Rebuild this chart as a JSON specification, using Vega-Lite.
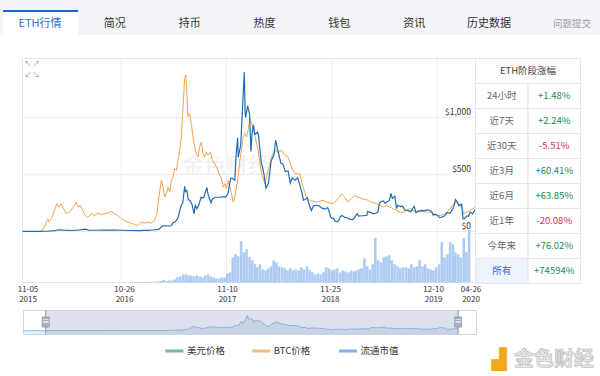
{
  "$schema": "https://vega.github.io/schema/vega-lite/v6.json",
  "width": 600,
  "height": 376,
  "autosize": {"type": "fit", "contains": "padding"},
  "padding": 0,
  "background": "#ffffff",
  "config": {"view": {"stroke": null}, "font": "Noto Sans CJK SC"},
  "datasets": {
    "tabs": [
      {"t": "ETH行情", "state": "active"}, {"t": "简况", "state": "normal"}, {"t": "持币", "state": "normal"},
      {"t": "热度", "state": "normal"}, {"t": "钱包", "state": "normal"}, {"t": "资讯", "state": "normal"}, {"t": "历史数据", "state": "normal"}
    ],
    "ticks": [{"d": "2015-11-05"}, {"d": "2016-10-26"}, {"d": "2017-11-10"}, {"d": "2018-11-25"}, {"d": "2019-12-10"}, {"d": "2020-04-26"}],
    "price": [
      {"d":"2015-08-08","p":2.8},{"d":"2015-08-20","p":1.3},{"d":"2015-09-10","p":0.95},{"d":"2015-10-01","p":0.7},{"d":"2015-10-20","p":0.6},
      {"d":"2015-11-05","p":0.95},{"d":"2015-12-01","p":0.87},{"d":"2016-01-01","p":0.95},{"d":"2016-02-01","p":2.4},{"d":"2016-03-01","p":7.5},
      {"d":"2016-03-13","p":15},{"d":"2016-04-01","p":11.5},{"d":"2016-05-01","p":8.8},{"d":"2016-06-01","p":14},{"d":"2016-06-17","p":20},
      {"d":"2016-07-01","p":12.4},{"d":"2016-08-01","p":11},{"d":"2016-09-01","p":12},{"d":"2016-10-01","p":13.2},{"d":"2016-11-01","p":11},
      {"d":"2016-12-01","p":8.6},{"d":"2017-01-01","p":8.2},{"d":"2017-01-15","p":10},{"d":"2017-02-01","p":10.7},{"d":"2017-02-15","p":13},
      {"d":"2017-03-01","p":16},{"d":"2017-03-10","p":19},{"d":"2017-03-15","p":28},{"d":"2017-03-20","p":42},{"d":"2017-03-25","p":50},
      {"d":"2017-04-01","p":50},{"d":"2017-04-15","p":48},{"d":"2017-04-25","p":50},{"d":"2017-05-01","p":77},{"d":"2017-05-10","p":88},
      {"d":"2017-05-20","p":125},{"d":"2017-05-25","p":180},{"d":"2017-05-31","p":230},{"d":"2017-06-05","p":250},{"d":"2017-06-12","p":395},
      {"d":"2017-06-15","p":350},{"d":"2017-06-20","p":360},{"d":"2017-06-25","p":280},{"d":"2017-07-01","p":270},{"d":"2017-07-08","p":240},
      {"d":"2017-07-16","p":155},{"d":"2017-07-20","p":230},{"d":"2017-07-26","p":200},{"d":"2017-08-01","p":225},{"d":"2017-08-10","p":300},
      {"d":"2017-08-15","p":295},{"d":"2017-08-20","p":300},{"d":"2017-08-31","p":385},{"d":"2017-09-05","p":320},{"d":"2017-09-15","p":250},
      {"d":"2017-09-20","p":285},{"d":"2017-09-30","p":300},{"d":"2017-10-10","p":300},{"d":"2017-10-20","p":300},{"d":"2017-10-31","p":305},
      {"d":"2017-11-06","p":300},{"d":"2017-11-15","p":330},{"d":"2017-11-25","p":465},{"d":"2017-12-01","p":465},{"d":"2017-12-10","p":450},
      {"d":"2017-12-15","p":690},{"d":"2017-12-20","p":820},{"d":"2017-12-22","p":650},{"d":"2017-12-31","p":755},{"d":"2018-01-05","p":1000},
      {"d":"2018-01-10","p":1250},{"d":"2018-01-13","p":1396},{"d":"2018-01-16","p":1050},{"d":"2018-01-18","p":1000},{"d":"2018-01-25","p":1100},
      {"d":"2018-02-01","p":1030},{"d":"2018-02-06","p":700},{"d":"2018-02-10","p":860},{"d":"2018-02-15","p":935},{"d":"2018-02-20","p":850},
      {"d":"2018-03-01","p":870},{"d":"2018-03-05","p":850},{"d":"2018-03-15","p":610},{"d":"2018-03-20","p":560},{"d":"2018-03-25","p":500},
      {"d":"2018-04-01","p":380},{"d":"2018-04-10","p":420},{"d":"2018-04-20","p":620},{"d":"2018-04-30","p":670},{"d":"2018-05-06","p":800},
      {"d":"2018-05-15","p":700},{"d":"2018-05-25","p":600},{"d":"2018-06-01","p":590},{"d":"2018-06-10","p":525},{"d":"2018-06-20","p":530},
      {"d":"2018-06-28","p":425},{"d":"2018-07-05","p":470},{"d":"2018-07-15","p":450},{"d":"2018-07-25","p":470},{"d":"2018-08-01","p":410},
      {"d":"2018-08-10","p":330},{"d":"2018-08-14","p":275},{"d":"2018-08-20","p":280},{"d":"2018-08-28","p":295},{"d":"2018-09-05","p":230},
      {"d":"2018-09-12","p":185},{"d":"2018-09-20","p":225},{"d":"2018-09-30","p":230},{"d":"2018-10-10","p":225},{"d":"2018-10-20","p":205},
      {"d":"2018-10-31","p":197},{"d":"2018-11-10","p":210},{"d":"2018-11-15","p":175},{"d":"2018-11-20","p":130},{"d":"2018-11-25","p":115},
      {"d":"2018-12-01","p":115},{"d":"2018-12-07","p":90},{"d":"2018-12-14","p":85},{"d":"2018-12-20","p":100},{"d":"2018-12-25","p":130},
      {"d":"2019-01-01","p":140},{"d":"2019-01-10","p":125},{"d":"2019-01-20","p":118},{"d":"2019-01-31","p":106},{"d":"2019-02-08","p":105},
      {"d":"2019-02-15","p":122},{"d":"2019-02-24","p":157},{"d":"2019-03-01","p":135},{"d":"2019-03-15","p":138},{"d":"2019-03-31","p":141},
      {"d":"2019-04-03","p":175},{"d":"2019-04-15","p":165},{"d":"2019-04-25","p":155},{"d":"2019-05-01","p":160},{"d":"2019-05-10","p":170},
      {"d":"2019-05-15","p":245},{"d":"2019-05-20","p":260},{"d":"2019-05-30","p":268},{"d":"2019-06-05","p":248},{"d":"2019-06-15","p":265},
      {"d":"2019-06-20","p":270},{"d":"2019-06-26","p":333},{"d":"2019-07-01","p":290},{"d":"2019-07-10","p":310},{"d":"2019-07-16","p":200},
      {"d":"2019-07-20","p":230},{"d":"2019-07-31","p":218},{"d":"2019-08-06","p":225},{"d":"2019-08-15","p":187},{"d":"2019-08-25","p":185},
      {"d":"2019-09-05","p":174},{"d":"2019-09-18","p":220},{"d":"2019-09-24","p":165},{"d":"2019-10-01","p":178},{"d":"2019-10-15","p":185},
      {"d":"2019-10-25","p":180},{"d":"2019-10-27","p":185},{"d":"2019-11-07","p":190},{"d":"2019-11-20","p":175},{"d":"2019-11-25","p":145},
      {"d":"2019-12-01","p":150},{"d":"2019-12-10","p":145},{"d":"2019-12-18","p":122},{"d":"2019-12-25","p":125},{"d":"2020-01-05","p":136},
      {"d":"2020-01-15","p":165},{"d":"2020-01-25","p":160},{"d":"2020-02-01","p":185},{"d":"2020-02-08","p":220},{"d":"2020-02-14","p":280},
      {"d":"2020-02-20","p":260},{"d":"2020-02-27","p":225},{"d":"2020-03-07","p":240},{"d":"2020-03-12","p":110},{"d":"2020-03-16","p":110},
      {"d":"2020-03-25","p":135},{"d":"2020-04-01","p":135},{"d":"2020-04-07","p":170},{"d":"2020-04-15","p":155},{"d":"2020-04-20","p":172},
      {"d":"2020-04-26","p":195}
    ],
    "btc": [
      {"d":"2016-01-11","v":0.0088},{"d":"2016-01-23","v":0.0128},{"d":"2016-02-04","v":0.0207},{"d":"2016-02-10","v":0.0175},{"d":"2016-02-22","v":0.0238},
      {"d":"2016-02-28","v":0.0285},{"d":"2016-03-08","v":0.0348},{"d":"2016-03-15","v":0.0316},{"d":"2016-03-23","v":0.0348},{"d":"2016-04-01","v":0.0301},
      {"d":"2016-04-11","v":0.0254},{"d":"2016-04-23","v":0.0269},{"d":"2016-05-02","v":0.0301},{"d":"2016-05-11","v":0.0332},{"d":"2016-05-17","v":0.0363},
      {"d":"2016-05-23","v":0.0316},{"d":"2016-05-31","v":0.0332},{"d":"2016-06-10","v":0.0285},{"d":"2016-06-19","v":0.0238},{"d":"2016-06-28","v":0.0222},
      {"d":"2016-07-10","v":0.0254},{"d":"2016-07-22","v":0.0238},{"d":"2016-08-03","v":0.026},{"d":"2016-08-15","v":0.0247},{"d":"2016-08-27","v":0.0254},
      {"d":"2016-09-08","v":0.026},{"d":"2016-09-20","v":0.0278},{"d":"2016-10-02","v":0.0254},{"d":"2016-10-14","v":0.0238},{"d":"2016-10-26","v":0.0207},
      {"d":"2016-11-07","v":0.0191},{"d":"2016-11-19","v":0.0175},{"d":"2016-12-01","v":0.0166},{"d":"2016-12-13","v":0.0154},{"d":"2016-12-25","v":0.0144},
      {"d":"2017-01-06","v":0.0175},{"d":"2017-01-18","v":0.0166},{"d":"2017-01-30","v":0.0175},{"d":"2017-02-11","v":0.0166},{"d":"2017-02-23","v":0.0191},
      {"d":"2017-03-04","v":0.0254},{"d":"2017-03-11","v":0.041},{"d":"2017-03-20","v":0.0566},{"d":"2017-03-26","v":0.0503},{"d":"2017-04-01","v":0.041},
      {"d":"2017-04-07","v":0.0441},{"d":"2017-04-13","v":0.0503},{"d":"2017-04-19","v":0.0456},{"d":"2017-04-25","v":0.0566},{"d":"2017-05-01","v":0.0597},
      {"d":"2017-05-07","v":0.0676},{"d":"2017-05-13","v":0.066},{"d":"2017-05-19","v":0.0754},{"d":"2017-05-25","v":0.0847},{"d":"2017-05-31","v":0.0972},
      {"d":"2017-06-06","v":0.1254},{"d":"2017-06-12","v":0.152},{"d":"2017-06-16","v":0.155},{"d":"2017-06-20","v":0.138},{"d":"2017-06-24","v":0.116},
      {"d":"2017-06-30","v":0.1191},{"d":"2017-07-06","v":0.1098},{"d":"2017-07-12","v":0.0972},{"d":"2017-07-18","v":0.0878},{"d":"2017-07-24","v":0.0816},
      {"d":"2017-07-30","v":0.0785},{"d":"2017-08-05","v":0.0878},{"d":"2017-08-11","v":0.0925},{"d":"2017-08-17","v":0.0816},{"d":"2017-08-23","v":0.0785},
      {"d":"2017-08-29","v":0.0832},{"d":"2017-09-04","v":0.0801},{"d":"2017-09-13","v":0.0832},{"d":"2017-09-20","v":0.0754},{"d":"2017-09-28","v":0.0723},
      {"d":"2017-10-07","v":0.0676},{"d":"2017-10-14","v":0.0629},{"d":"2017-10-23","v":0.0582},{"d":"2017-10-29","v":0.0503},{"d":"2017-11-04","v":0.0535},
      {"d":"2017-11-10","v":0.0488},{"d":"2017-11-16","v":0.0566},{"d":"2017-11-22","v":0.0503},{"d":"2017-11-28","v":0.0441},{"d":"2017-12-04","v":0.0363},
      {"d":"2017-12-10","v":0.041},{"d":"2017-12-16","v":0.0503},{"d":"2017-12-22","v":0.0613},{"d":"2017-12-28","v":0.0754},{"d":"2018-01-03","v":0.0847},
      {"d":"2018-01-09","v":0.0972},{"d":"2018-01-15","v":0.1004},{"d":"2018-01-21","v":0.0972},{"d":"2018-01-27","v":0.1035},{"d":"2018-02-02","v":0.1145},
      {"d":"2018-02-09","v":0.1098},{"d":"2018-02-21","v":0.0972},{"d":"2018-03-04","v":0.0847},{"d":"2018-03-16","v":0.0629},{"d":"2018-03-28","v":0.0535},
      {"d":"2018-04-09","v":0.066},{"d":"2018-04-21","v":0.0785},{"d":"2018-05-03","v":0.0847},{"d":"2018-05-15","v":0.0832},{"d":"2018-05-27","v":0.0847},
      {"d":"2018-06-08","v":0.0801},{"d":"2018-06-20","v":0.0785},{"d":"2018-07-02","v":0.0691},{"d":"2018-07-15","v":0.0629},{"d":"2018-08-01","v":0.0629},
      {"d":"2018-08-13","v":0.0503},{"d":"2018-08-25","v":0.041},{"d":"2018-09-06","v":0.0379},{"d":"2018-09-30","v":0.0363},{"d":"2018-10-24","v":0.0379},
      {"d":"2018-11-05","v":0.0363},{"d":"2018-11-29","v":0.0348},{"d":"2018-12-11","v":0.0379},{"d":"2018-12-23","v":0.041},{"d":"2018-12-29","v":0.0441},
      {"d":"2019-01-10","v":0.041},{"d":"2019-01-22","v":0.0363},{"d":"2019-02-03","v":0.0395},{"d":"2019-02-15","v":0.0425},{"d":"2019-02-27","v":0.041},
      {"d":"2019-03-12","v":0.0395},{"d":"2019-03-30","v":0.0385},{"d":"2019-04-17","v":0.0363},{"d":"2019-05-05","v":0.0348},{"d":"2019-05-17","v":0.0332},
      {"d":"2019-05-29","v":0.0316},{"d":"2019-06-10","v":0.0332},{"d":"2019-06-22","v":0.0316},{"d":"2019-07-04","v":0.0301},{"d":"2019-07-16","v":0.0285},
      {"d":"2019-07-28","v":0.0269},{"d":"2019-08-09","v":0.0269},{"d":"2019-08-21","v":0.0285},{"d":"2019-09-02","v":0.0301},{"d":"2019-09-14","v":0.0285},
      {"d":"2019-09-26","v":0.0278},{"d":"2019-10-08","v":0.0269},{"d":"2019-10-20","v":0.0278},{"d":"2019-11-02","v":0.0269},{"d":"2019-11-14","v":0.0269},
      {"d":"2019-11-26","v":0.0254},{"d":"2019-12-09","v":0.0238},{"d":"2019-12-21","v":0.0238},{"d":"2020-01-02","v":0.0247},{"d":"2020-01-14","v":0.0269},
      {"d":"2020-01-26","v":0.0301},{"d":"2020-02-07","v":0.0348},{"d":"2020-02-13","v":0.0363},{"d":"2020-02-25","v":0.0348},{"d":"2020-03-08","v":0.0316},
      {"d":"2020-03-14","v":0.0254},{"d":"2020-03-26","v":0.0269},{"d":"2020-04-07","v":0.0285},{"d":"2020-04-26","v":0.0316}
    ],
    "vol": [
      {"d":"2016-12-01","v":0.25},{"d":"2016-12-11","v":0.25},{"d":"2016-12-21","v":0.25},
      {"d":"2017-01-01","v":0.25},{"d":"2017-01-11","v":0.25},{"d":"2017-01-21","v":0.3},
      {"d":"2017-02-01","v":0.3},{"d":"2017-02-11","v":0.35},{"d":"2017-02-21","v":0.4},
      {"d":"2017-03-01","v":0.5},{"d":"2017-03-11","v":0.75},{"d":"2017-03-21","v":1.25},
      {"d":"2017-04-01","v":0.75},{"d":"2017-04-11","v":1.0},{"d":"2017-04-21","v":1.0},
      {"d":"2017-05-01","v":1.5},{"d":"2017-05-11","v":2.5},{"d":"2017-05-21","v":3.0},
      {"d":"2017-06-01","v":4.0},{"d":"2017-06-11","v":4.0},{"d":"2017-06-21","v":3.5},
      {"d":"2017-07-01","v":3.5},{"d":"2017-07-11","v":3.0},{"d":"2017-07-21","v":3.5},
      {"d":"2017-08-01","v":3.0},{"d":"2017-08-11","v":2.5},{"d":"2017-08-21","v":3.5},
      {"d":"2017-09-01","v":4.0},{"d":"2017-09-11","v":3.0},{"d":"2017-09-21","v":2.5},
      {"d":"2017-10-01","v":2.0},{"d":"2017-10-11","v":2.0},{"d":"2017-10-21","v":2.5},
      {"d":"2017-11-01","v":2.5},{"d":"2017-11-11","v":4.5},{"d":"2017-11-21","v":5.0},
      {"d":"2017-12-01","v":12.5},{"d":"2017-12-11","v":14},{"d":"2017-12-21","v":13},
      {"d":"2018-01-01","v":20.5},{"d":"2018-01-11","v":15},{"d":"2018-01-21","v":16.5},
      {"d":"2018-02-01","v":12.5},{"d":"2018-02-11","v":11},{"d":"2018-02-21","v":9},
      {"d":"2018-03-01","v":7.5},{"d":"2018-03-11","v":9},{"d":"2018-03-21","v":6.5},
      {"d":"2018-04-01","v":6},{"d":"2018-04-11","v":7},{"d":"2018-04-21","v":8},
      {"d":"2018-05-01","v":11},{"d":"2018-05-11","v":10},{"d":"2018-05-21","v":8},
      {"d":"2018-06-01","v":7.5},{"d":"2018-06-11","v":7},{"d":"2018-06-21","v":6},
      {"d":"2018-07-01","v":7},{"d":"2018-07-11","v":6},{"d":"2018-07-21","v":6.5},
      {"d":"2018-08-01","v":6},{"d":"2018-08-11","v":7.5},{"d":"2018-08-21","v":6.5},
      {"d":"2018-09-01","v":8},{"d":"2018-09-11","v":6},{"d":"2018-09-21","v":5},
      {"d":"2018-10-01","v":4},{"d":"2018-10-11","v":4.5},{"d":"2018-10-21","v":4},
      {"d":"2018-11-01","v":5},{"d":"2018-11-11","v":7.5},{"d":"2018-11-21","v":7},
      {"d":"2018-12-01","v":6},{"d":"2018-12-11","v":6.5},{"d":"2018-12-21","v":7},
      {"d":"2019-01-01","v":5},{"d":"2019-01-11","v":6},{"d":"2019-01-21","v":5.5},
      {"d":"2019-02-01","v":5},{"d":"2019-02-11","v":6},{"d":"2019-02-21","v":5.5},
      {"d":"2019-03-01","v":6},{"d":"2019-03-11","v":6.5},{"d":"2019-03-21","v":7},
      {"d":"2019-04-01","v":12},{"d":"2019-04-11","v":8},{"d":"2019-04-21","v":6.5},
      {"d":"2019-05-01","v":9},{"d":"2019-05-11","v":22},{"d":"2019-05-21","v":11},
      {"d":"2019-06-01","v":10},{"d":"2019-06-11","v":12.5},{"d":"2019-06-21","v":13},
      {"d":"2019-07-01","v":13.5},{"d":"2019-07-11","v":11},{"d":"2019-07-21","v":9},
      {"d":"2019-08-01","v":8},{"d":"2019-08-11","v":7},{"d":"2019-08-21","v":7.5},
      {"d":"2019-09-01","v":7.5},{"d":"2019-09-11","v":7},{"d":"2019-09-21","v":9},
      {"d":"2019-10-01","v":7.5},{"d":"2019-10-11","v":8},{"d":"2019-10-21","v":11},
      {"d":"2019-11-01","v":8},{"d":"2019-11-11","v":9},{"d":"2019-11-21","v":7},
      {"d":"2019-12-01","v":6.5},{"d":"2019-12-11","v":6},{"d":"2019-12-21","v":7.5},
      {"d":"2020-01-01","v":9},{"d":"2020-01-11","v":20},{"d":"2020-01-21","v":12.5},
      {"d":"2020-02-01","v":14},{"d":"2020-02-11","v":20},{"d":"2020-02-21","v":19},
      {"d":"2020-03-01","v":15},{"d":"2020-03-11","v":14},{"d":"2020-03-21","v":12.5},
      {"d":"2020-04-01","v":22},{"d":"2020-04-11","v":15},{"d":"2020-04-21","v":26}
    ],
    "table": [
      {"k": "24小时", "v": "+1.48%", "dir": "up"}, {"k": "近7天", "v": "+2.24%", "dir": "up"},
      {"k": "近30天", "v": "-5.51%", "dir": "down"}, {"k": "近3月", "v": "+60.41%", "dir": "up"},
      {"k": "近6月", "v": "+63.85%", "dir": "up"}, {"k": "近1年", "v": "-20.08%", "dir": "down"},
      {"k": "今年来", "v": "+76.02%", "dir": "up"}, {"k": "所有", "v": "+74594%", "dir": "up"}
    ],
    "legend": [{"s": "美元价格"}, {"s": "BTC价格"}, {"s": "流通市值"}],
    "handles": [{"edge": "start", "d": "2015-11-05"}, {"edge": "end", "d": "2020-04-26"}]
  },
  "layer": [
    {
      "data": {"values": [{"part": "tabbar"}]},
      "mark": {"type": "rect", "color": "#f4f5f8"},
      "encoding": {
        "x": {"field": "part", "type": "nominal", "scale": {"type": "band", "range": [0, 600], "paddingInner": 0, "paddingOuter": 0}, "axis": null},
        "y": {"field": "part", "type": "nominal", "scale": {"type": "band", "range": [0, 35], "paddingInner": 0, "paddingOuter": 0}, "axis": null}
      }
    },
    {
      "data": {"name": "tabs"},
      "transform": [{"filter": "datum.state === 'active'"}],
      "mark": {"type": "rect", "color": "#ffffff"},
      "encoding": {
        "x": {"field": "t", "type": "nominal", "scale": {"type": "band", "domain": ["ETH行情", "简况", "持币", "热度", "钱包", "资讯", "历史数据"], "range": [3, 528], "paddingInner": 0, "paddingOuter": 0}, "axis": null},
        "y": {"field": "state", "type": "nominal", "scale": {"type": "band", "domain": ["active"], "range": [10, 35], "paddingInner": 0, "paddingOuter": 0}, "axis": null}
      }
    },
    {
      "data": {"name": "tabs"},
      "transform": [{"filter": "datum.state === 'active'"}],
      "mark": {"type": "rect", "color": "#1f63d3"},
      "encoding": {
        "x": {"field": "t", "type": "nominal", "scale": {"type": "band", "domain": ["ETH行情", "简况", "持币", "热度", "钱包", "资讯", "历史数据"], "range": [3, 528], "paddingInner": 0, "paddingOuter": 0}, "axis": null},
        "y": {"field": "state", "type": "nominal", "scale": {"type": "band", "domain": ["active"], "range": [10, 12], "paddingInner": 0, "paddingOuter": 0}, "axis": null}
      }
    },
    {
      "data": {"name": "tabs"},
      "mark": {"type": "text", "fontSize": 11, "baseline": "middle", "align": "center"},
      "encoding": {
        "x": {"field": "t", "type": "nominal", "scale": {"type": "point", "domain": ["ETH行情", "简况", "持币", "热度", "钱包", "资讯", "历史数据"], "range": [40, 489], "padding": 0}, "axis": null},
        "y": {"field": "state", "type": "nominal", "scale": {"type": "point", "domain": ["active", "normal"], "range": [24, 24], "padding": 0}, "axis": null},
        "text": {"field": "t"},
        "color": {"field": "state", "type": "nominal", "scale": {"domain": ["active", "normal"], "range": ["#2b6bd6", "#333333"]}, "legend": null}
      }
    },
    {
      "data": {"values": [{"t": "问题提交"}]},
      "mark": {"type": "text", "fontSize": 9.5, "baseline": "middle", "align": "center", "color": "#9a9a9a"},
      "encoding": {
        "x": {"field": "t", "type": "nominal", "scale": {"type": "point", "range": [572, 572], "padding": 0}, "axis": null},
        "y": {"field": "t", "type": "nominal", "scale": {"type": "point", "range": [24, 24], "padding": 0}, "axis": null},
        "text": {"field": "t"}
      }
    },
    {
      "data": {"values": [{"w": "金色财经"}]},
      "mark": {"type": "text", "fontSize": 22, "baseline": "middle", "align": "center", "color": "#edf0f5"},
      "encoding": {
        "x": {"field": "w", "type": "nominal", "scale": {"type": "point", "range": [226, 226], "padding": 0}, "axis": null},
        "y": {"field": "w", "type": "nominal", "scale": {"type": "point", "range": [166, 166], "padding": 0}, "axis": null},
        "text": {"field": "w"}
      }
    },
    {
      "data": {"name": "ticks"},
      "mark": {"type": "rule", "color": "#eef0f4", "strokeWidth": 1},
      "encoding": {
        "x": {"field": "d", "type": "temporal", "scale": {"type": "utc", "domain": [{"year": 2015, "month": 11, "date": 5, "utc": true}, {"year": 2020, "month": 4, "date": 26, "utc": true}], "range": [22.5, 475.5]}, "axis": null},
        "y": {"datum": 0, "type": "quantitative", "scale": {"domain": [0, 1], "range": [282.5, 58.5]}, "axis": null},
        "y2": {"datum": 1}
      }
    },
    {
      "data": {"values": [{"p": 0}, {"p": 500}, {"p": 1000}]},
      "mark": {"type": "rule", "color": "#e9ecf1", "strokeWidth": 1},
      "encoding": {
        "x": {"datum": {"year": 2015, "month": 11, "date": 5, "utc": true}, "type": "temporal", "scale": {"type": "utc", "domain": [{"year": 2015, "month": 11, "date": 5, "utc": true}, {"year": 2020, "month": 4, "date": 26, "utc": true}], "range": [22.5, 475.5]}, "axis": null},
        "x2": {"datum": {"year": 2020, "month": 4, "date": 26, "utc": true}},
        "y": {"field": "p", "type": "quantitative", "scale": {"domain": [0, 1520], "range": [231.5, 58]}, "axis": null}
      }
    },
    {
      "data": {"values": [{"region": "plot"}]},
      "mark": {"type": "rect", "fill": "transparent", "stroke": "#e3e6ec", "strokeWidth": 1},
      "encoding": {
        "x": {"datum": {"year": 2015, "month": 11, "date": 5, "utc": true}, "type": "temporal", "scale": {"type": "utc", "domain": [{"year": 2015, "month": 11, "date": 5, "utc": true}, {"year": 2020, "month": 4, "date": 26, "utc": true}], "range": [22.5, 475.5]}, "axis": null},
        "x2": {"datum": {"year": 2020, "month": 4, "date": 26, "utc": true}},
        "y": {"datum": 0, "type": "quantitative", "scale": {"domain": [0, 1], "range": [282.5, 58.5]}, "axis": null},
        "y2": {"datum": 1}
      }
    },
    {
      "data": {"values": [{"r": "↖ ↗"}, {"r": "↙ ↘"}]},
      "mark": {"type": "text", "fontSize": 7, "baseline": "middle", "align": "center", "color": "#8a8f99"},
      "encoding": {
        "x": {"field": "r", "type": "nominal", "scale": {"type": "point", "range": [32, 32], "padding": 0}, "axis": null},
        "y": {"field": "r", "type": "nominal", "scale": {"type": "point", "domain": ["↖ ↗", "↙ ↘"], "range": [64, 75], "padding": 0}, "axis": null},
        "text": {"field": "r"}
      }
    },
    {
      "data": {"name": "vol"},
      "mark": {"type": "bar", "size": 2.6, "color": "#adcbf3"},
      "encoding": {
        "x": {"field": "d", "type": "temporal",
          "scale": {"type": "utc", "domain": [{"year": 2015, "month": 11, "date": 5, "utc": true}, {"year": 2020, "month": 4, "date": 26, "utc": true}], "range": [22.5, 475.5]},
          "axis": {"orient": "bottom", "offset": -93.5, "title": null, "domain": false, "ticks": false, "tickSize": 0, "grid": false,
            "values": [{"year": 2015, "month": 11, "date": 5, "utc": true}, {"year": 2016, "month": 10, "date": 26, "utc": true}, {"year": 2017, "month": 11, "date": 10, "utc": true}, {"year": 2018, "month": 11, "date": 25, "utc": true}, {"year": 2019, "month": 12, "date": 10, "utc": true}, {"year": 2020, "month": 4, "date": 26, "utc": true}],
            "labelExpr": "[utcFormat(datum.value, '%m-%d'), utcFormat(datum.value, '%Y')]",
            "labelPadding": 3, "labelFontSize": 8, "labelLineHeight": 10, "labelColor": "#333333", "labelFlush": false, "labelOverlap": false, "labelBound": false}},
        "y": {"field": "v", "type": "quantitative", "scale": {"domain": [0, 25], "range": [282.5, 232]}, "axis": null}
      }
    },
    {
      "data": {"name": "btc"},
      "mark": {"type": "line", "color": "#f5a34e", "strokeWidth": 1},
      "encoding": {
        "x": {"field": "d", "type": "temporal", "scale": {"type": "utc", "domain": [{"year": 2015, "month": 11, "date": 5, "utc": true}, {"year": 2020, "month": 4, "date": 26, "utc": true}], "range": [22.5, 475.5]}, "axis": null},
        "y": {"field": "v", "type": "quantitative", "scale": {"domain": [0.0088, 0.171], "range": [231.5, 58], "zero": false}, "axis": null}
      }
    },
    {
      "data": {"name": "price"},
      "transform": [{"filter": "time(datum.d) >= utc(2015, 10, 5)"}],
      "mark": {"type": "line", "color": "#1f6db5", "strokeWidth": 1.2},
      "encoding": {
        "x": {"field": "d", "type": "temporal", "scale": {"type": "utc", "domain": [{"year": 2015, "month": 11, "date": 5, "utc": true}, {"year": 2020, "month": 4, "date": 26, "utc": true}], "range": [22.5, 475.5]}, "axis": null},
        "y": {"field": "p", "type": "quantitative", "scale": {"domain": [0, 1520], "range": [231.5, 58]},
          "axis": {"orient": "right", "offset": -124.5, "title": null, "values": [0, 500, 1000], "format": "$,.0f", "labelAlign": "right", "labelBaseline": "bottom",
            "labelPadding": -5, "ticks": false, "tickSize": 0, "domain": false, "grid": false, "labelFontSize": 8.5, "labelColor": "#333333", "labelFlush": false, "labelOffset": -1, "labelBound": false}}
      }
    },
    {
      "data": {"values": [{"h": "ETH阶段涨幅"}]},
      "mark": {"type": "rect", "fill": "#ffffff", "stroke": "#e3e6ec", "strokeWidth": 1},
      "encoding": {
        "x": {"field": "h", "type": "nominal", "scale": {"type": "band", "range": [475.5, 580.5], "paddingInner": 0, "paddingOuter": 0}, "axis": null},
        "y": {"field": "h", "type": "nominal", "scale": {"type": "band", "domain": ["ETH阶段涨幅", "24小时", "近7天", "近30天", "近3月", "近6月", "近1年", "今年来", "所有"], "range": [58.5, 283.5], "paddingInner": 0, "paddingOuter": 0}, "axis": null}
      }
    },
    {
      "data": {"name": "table"},
      "mark": {"type": "rect", "stroke": "#e3e6ec", "strokeWidth": 1},
      "encoding": {
        "x": {"datum": "k", "type": "nominal", "scale": {"type": "band", "domain": ["k", "v"], "range": [475.5, 580.5], "paddingInner": 0, "paddingOuter": 0}, "axis": null},
        "y": {"field": "k", "type": "nominal", "scale": {"type": "band", "domain": ["ETH阶段涨幅", "24小时", "近7天", "近30天", "近3月", "近6月", "近1年", "今年来", "所有"], "range": [58.5, 283.5], "paddingInner": 0, "paddingOuter": 0}, "axis": null},
        "fill": {"condition": {"test": "datum.k === '所有'", "value": "#eef4fc"}, "value": "#ffffff"}
      }
    },
    {
      "data": {"name": "table"},
      "mark": {"type": "rect", "fill": "#ffffff", "stroke": "#e3e6ec", "strokeWidth": 1},
      "encoding": {
        "x": {"datum": "v", "type": "nominal", "scale": {"type": "band", "domain": ["k", "v"], "range": [475.5, 580.5], "paddingInner": 0, "paddingOuter": 0}, "axis": null},
        "y": {"field": "k", "type": "nominal", "scale": {"type": "band", "domain": ["ETH阶段涨幅", "24小时", "近7天", "近30天", "近3月", "近6月", "近1年", "今年来", "所有"], "range": [58.5, 283.5], "paddingInner": 0, "paddingOuter": 0}, "axis": null}
      }
    },
    {
      "data": {"values": [{"h": "ETH阶段涨幅"}]},
      "mark": {"type": "text", "fontSize": 9.5, "baseline": "middle", "align": "center", "color": "#444444"},
      "encoding": {
        "x": {"field": "h", "type": "nominal", "scale": {"type": "point", "range": [528, 528], "padding": 0}, "axis": null},
        "y": {"field": "h", "type": "nominal", "scale": {"type": "point", "range": [71, 71], "padding": 0}, "axis": null},
        "text": {"field": "h"}
      }
    },
    {
      "data": {"name": "table"},
      "mark": {"type": "text", "fontSize": 9.5, "baseline": "middle", "align": "center"},
      "encoding": {
        "x": {"datum": "k", "type": "nominal", "scale": {"type": "band", "domain": ["k", "v"], "range": [475.5, 580.5], "paddingInner": 0, "paddingOuter": 0}, "axis": null},
        "y": {"field": "k", "type": "nominal", "scale": {"type": "band", "domain": ["ETH阶段涨幅", "24小时", "近7天", "近30天", "近3月", "近6月", "近1年", "今年来", "所有"], "range": [58.5, 283.5], "paddingInner": 0, "paddingOuter": 0}, "axis": null},
        "text": {"field": "k"},
        "color": {"condition": {"test": "datum.k === '所有'", "value": "#2d6bd5"}, "value": "#666666"}
      }
    },
    {
      "data": {"name": "table"},
      "mark": {"type": "text", "fontSize": 9.5, "baseline": "middle", "align": "center"},
      "encoding": {
        "x": {"datum": "v", "type": "nominal", "scale": {"type": "band", "domain": ["k", "v"], "range": [475.5, 580.5], "paddingInner": 0, "paddingOuter": 0}, "axis": null},
        "y": {"field": "k", "type": "nominal", "scale": {"type": "band", "domain": ["ETH阶段涨幅", "24小时", "近7天", "近30天", "近3月", "近6月", "近1年", "今年来", "所有"], "range": [58.5, 283.5], "paddingInner": 0, "paddingOuter": 0}, "axis": null},
        "text": {"field": "v"},
        "color": {"condition": {"test": "datum.dir === 'up'", "value": "#1b8a52"}, "value": "#d6304e"}
      }
    },
    {
      "data": {"name": "price"},
      "mark": {"type": "area", "color": "#d7e7f7", "line": {"color": "#8fbbe6", "strokeWidth": 1}},
      "encoding": {
        "x": {"field": "d", "type": "temporal", "scale": {"type": "utc", "domain": [{"year": 2015, "month": 8, "date": 7, "utc": true}, {"year": 2020, "month": 7, "date": 6, "utc": true}], "range": [23, 476]}, "axis": null},
        "y": {"field": "p", "type": "quantitative", "scale": {"domain": [-300, 1400], "range": [334, 315], "zero": false}, "axis": null},
        "y2": {"datum": -300}
      }
    },
    {
      "data": {"values": [{"from": "2015-11-05", "to": "2020-04-26"}]},
      "mark": {"type": "rect", "color": "#7f8fb5", "opacity": 0.27},
      "encoding": {
        "x": {"field": "from", "type": "temporal", "scale": {"type": "utc", "domain": [{"year": 2015, "month": 8, "date": 7, "utc": true}, {"year": 2020, "month": 7, "date": 6, "utc": true}], "range": [23, 476]}, "axis": null},
        "x2": {"field": "to"},
        "y": {"datum": 0, "type": "quantitative", "scale": {"domain": [0, 1], "range": [334, 310]}, "axis": null},
        "y2": {"datum": 1}
      }
    },
    {
      "data": {"values": [{"box": "navigator"}]},
      "mark": {"type": "rect", "fill": "transparent", "stroke": "#ccd3dd", "strokeWidth": 1},
      "encoding": {
        "x": {"datum": {"year": 2015, "month": 8, "date": 7, "utc": true}, "type": "temporal", "scale": {"type": "utc", "domain": [{"year": 2015, "month": 8, "date": 7, "utc": true}, {"year": 2020, "month": 7, "date": 6, "utc": true}], "range": [23.5, 476.5]}, "axis": null},
        "x2": {"datum": {"year": 2020, "month": 7, "date": 6, "utc": true}},
        "y": {"datum": 0, "type": "quantitative", "scale": {"domain": [0, 1], "range": [334.5, 310.5]}, "axis": null},
        "y2": {"datum": 1}
      }
    },
    {
      "data": {"name": "handles"},
      "mark": {"type": "rule", "color": "#8c98ac", "strokeWidth": 1},
      "encoding": {
        "x": {"field": "d", "type": "temporal", "scale": {"type": "utc", "domain": [{"year": 2015, "month": 8, "date": 7, "utc": true}, {"year": 2020, "month": 7, "date": 6, "utc": true}], "range": [23, 476]}, "axis": null},
        "y": {"datum": 0, "type": "quantitative", "scale": {"domain": [0, 1], "range": [334, 310]}, "axis": null},
        "y2": {"datum": 1}
      }
    },
    {
      "data": {"name": "handles"},
      "mark": {"type": "rect", "fill": "#a8b2c2", "stroke": "#8c98ac", "strokeWidth": 0.8, "xOffset": -3.5, "x2Offset": 3.5},
      "encoding": {
        "x": {"field": "d", "type": "temporal", "scale": {"type": "utc", "domain": [{"year": 2015, "month": 8, "date": 7, "utc": true}, {"year": 2020, "month": 7, "date": 6, "utc": true}], "range": [23, 476]}, "axis": null},
        "x2": {"field": "d"},
        "y": {"datum": 0.29, "type": "quantitative", "scale": {"domain": [0, 1], "range": [334, 310]}, "axis": null},
        "y2": {"datum": 0.71}
      }
    },
    {
      "data": {"name": "handles"},
      "mark": {"type": "text", "text": "≡", "fontSize": 8, "baseline": "middle", "align": "center", "color": "#ffffff"},
      "encoding": {
        "x": {"field": "d", "type": "temporal", "scale": {"type": "utc", "domain": [{"year": 2015, "month": 8, "date": 7, "utc": true}, {"year": 2020, "month": 7, "date": 6, "utc": true}], "range": [23, 476]}, "axis": null},
        "y": {"datum": 0.5, "type": "quantitative", "scale": {"domain": [0, 1], "range": [334, 310]}, "axis": null}
      }
    },
    {
      "data": {"name": "legend"},
      "mark": {"type": "tick", "orient": "horizontal", "size": 18, "thickness": 3},
      "encoding": {
        "x": {"field": "s", "type": "nominal", "scale": {"type": "point", "domain": ["美元价格", "BTC价格", "流通市值"], "range": [174.5, 348], "padding": 0}, "axis": null},
        "y": {"field": "s", "type": "nominal", "scale": {"type": "point", "range": [351, 351], "padding": 0}, "axis": null},
        "color": {"field": "s", "type": "nominal", "scale": {"domain": ["美元价格", "BTC价格", "流通市值"], "range": ["#3a9b73", "#f3a04c", "#4a8ee3"]}, "legend": null}
      }
    },
    {
      "data": {"name": "legend"},
      "mark": {"type": "text", "fontSize": 9.5, "baseline": "middle", "align": "left", "dx": 12.5, "color": "#333333"},
      "encoding": {
        "x": {"field": "s", "type": "nominal", "scale": {"type": "point", "domain": ["美元价格", "BTC价格", "流通市值"], "range": [174.5, 348], "padding": 0}, "axis": null},
        "y": {"field": "s", "type": "nominal", "scale": {"type": "point", "range": [351, 351], "padding": 0}, "axis": null},
        "text": {"field": "s"}
      }
    },
    {
      "data": {"values": [{"brand": "金色财经"}]},
      "mark": {"type": "text", "fontSize": 20, "fontWeight": "bold", "baseline": "middle", "align": "left", "fill": "#e6e6e6", "stroke": "#b5b5b5", "strokeWidth": 0.6},
      "encoding": {
        "x": {"field": "brand", "type": "nominal", "scale": {"type": "point", "range": [514, 514], "padding": 0}, "axis": null},
        "y": {"field": "brand", "type": "nominal", "scale": {"type": "point", "range": [360, 360], "padding": 0}, "axis": null},
        "text": {"field": "brand"}
      }
    },
    {
      "data": {"values": [{"brand": "金色财经"}]},
      "mark": {"type": "text", "text": "▟", "font": "DejaVu Sans", "fontSize": 20, "baseline": "middle", "align": "center", "color": "#f2a81d"},
      "encoding": {
        "x": {"field": "brand", "type": "nominal", "scale": {"type": "point", "range": [499, 499], "padding": 0}, "axis": null},
        "y": {"field": "brand", "type": "nominal", "scale": {"type": "point", "range": [360, 360], "padding": 0}, "axis": null}
      }
    }
  ],
  "resolve": {"scale": {"x": "independent", "y": "independent", "color": "independent", "fill": "independent"}}
}
